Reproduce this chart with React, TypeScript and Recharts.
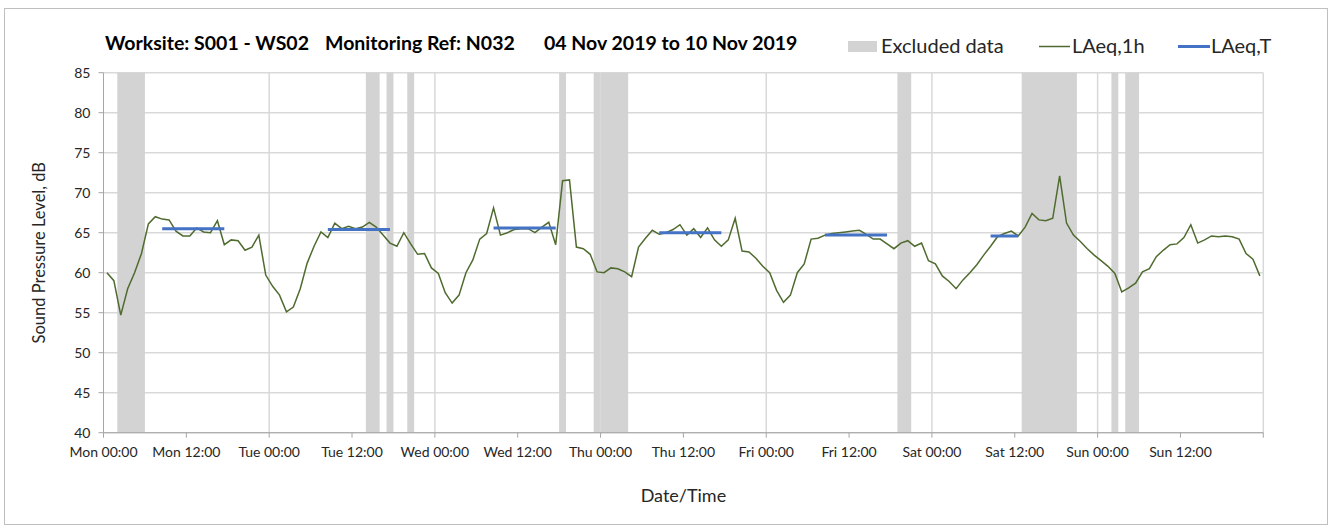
import {
  ComposedChart,
  Line,
  XAxis,
  YAxis,
  CartesianGrid,
  ReferenceArea,
  ReferenceLine,
} from 'recharts'

const days = ['Mon', 'Tue', 'Wed', 'Thu', 'Fri', 'Sat', 'Sun']
const xTicks = [0, 12, 24, 36, 48, 60, 72, 84, 96, 108, 120, 132, 144, 156, 168]
const yTicks = [40, 45, 50, 55, 60, 65, 70, 75, 80, 85]
const dayLines = [24, 48, 72, 96, 120, 144, 168]

// hourly LAeq,1h, Mon 00:00 .. Sun 23:00
const laeq1h = [
  60.0, 59.0, 54.7, 58.0, 60.0, 62.4, 66.1, 67.0, 66.7, 66.6, 65.2, 64.6,
  64.6, 65.6, 65.1, 65.0, 66.5, 63.5, 64.1, 64.0, 62.8, 63.2, 64.7, 59.7,
  58.3, 57.2, 55.1, 55.7, 58.0, 61.2, 63.3, 65.1, 64.4, 66.2, 65.5, 65.8,
  65.5, 65.7, 66.3, 65.7, 64.7, 63.7, 63.3, 65.0, 63.6, 62.3, 62.4, 60.6,
  59.9, 57.5, 56.2, 57.2, 60.0, 61.6, 64.2, 64.9, 68.1, 64.7, 65.0, 65.4,
  65.5, 65.5, 65.0, 65.7, 66.3, 63.5, 71.5, 71.6, 63.2, 63.0, 62.3, 60.1,
  60.0, 60.6, 60.5, 60.1, 59.5, 63.2, 64.3, 65.3, 64.8, 65.0, 65.4, 66.0,
  64.7, 65.5, 64.4, 65.6, 64.1, 63.3, 64.1, 66.8, 62.7, 62.6, 61.8, 60.8,
  60.0, 57.8, 56.3, 57.2, 60.0, 61.1, 64.2, 64.3, 64.7, 64.9, 65.0, 65.1,
  65.2, 65.3, 64.8, 64.2, 64.2, 63.6, 63.0, 63.7, 64.0, 63.3, 63.7, 61.5,
  61.1, 59.6, 58.9, 58.0, 59.1, 60.0, 61.0, 62.2, 63.3, 64.5, 64.9, 65.2,
  64.6, 65.7, 67.4, 66.6, 66.5, 66.8, 72.1, 66.2, 64.7, 63.9, 63.0, 62.2,
  61.5, 60.8, 59.9, 57.6, 58.1, 58.7, 60.1, 60.5, 62.0, 62.8, 63.5, 63.6,
  64.4, 66.0, 63.7, 64.1, 64.6, 64.5, 64.6, 64.5, 64.2, 62.4, 61.7, 59.6,
]

// LAeq,T periods (first hour, last hour, level)
const periodStart = [8, 32, 56, 80, 104, 128]
const periodEnd = [17, 41, 65, 89, 113, 132]
const periodLevel = [65.5, 65.4, 65.6, 65.0, 64.7, 64.6]

// excluded data, hours from Mon 00:00
const excludedStart = [2, 38, 41, 44, 66, 71, 115, 133, 146, 148]
const excludedEnd = [6, 40, 42, 45, 67, 76, 117, 141, 147, 150]

const data = laeq1h.map((v, i) => {
  const p = periodStart.findIndex((s, k) => i >= s && i <= periodEnd[k])
  return { t: i + 0.5, laeq1h: v, laeqT: p >= 0 ? periodLevel[p] : null }
})

const font = 'Lato, "Open Sans", sans-serif'
const axisGrey = '#a6a6a6'
const gridGrey = '#d9d9d9'

function fmtTick(t: number) {
  if (t >= 168) return ''
  return `${days[Math.floor(t / 24)]} ${t % 24 === 0 ? '00' : '12'}:00`
}

export default function App() {
  return (
    <div
      style={{
        position: 'absolute',
        left: 0,
        top: 0,
        width: 1333,
        height: 531,
        fontFamily: font,
        background: '#fff',
      }}
    >
      <div
        style={{
          position: 'absolute',
          left: 4,
          top: 8,
          width: 1322,
          height: 515,
          border: '1px solid #bfbfbf',
        }}
      />
      <ComposedChart
        width={1333}
        height={531}
        data={data}
        margin={{ top: 72.7, right: 69.7, bottom: 68.3, left: 43.5 }}
        style={{ position: 'absolute', left: 0, top: 0 }}
      >
        {excludedStart.map((s, i) => (
          <ReferenceArea
            key={i}
            x1={s}
            x2={excludedEnd[i]}
            fill="#d3d3d3"
            fillOpacity={1}
            stroke="none"
          />
        ))}
        <CartesianGrid vertical={false} stroke={gridGrey} strokeWidth={1.5} />
        {dayLines.map((d) => (
          <ReferenceLine key={d} x={d} stroke={gridGrey} strokeWidth={1.5} />
        ))}
        <XAxis
          type="number"
          dataKey="t"
          domain={[0, 168]}
          ticks={xTicks}
          interval={0}
          tickFormatter={fmtTick}
          height={30}
          stroke={axisGrey}
          tickSize={5}
          tickMargin={9}
          tick={{ fill: '#262626', fontSize: 14, fontFamily: font }}
          label={{
            value: 'Date/Time',
            position: 'insideBottom',
            offset: -39,
            fill: '#262626',
            fontSize: 18,
            fontFamily: font,
          }}
        />
        <YAxis
          type="number"
          domain={[40, 85]}
          ticks={yTicks}
          interval={0}
          width={60}
          stroke={axisGrey}
          tickSize={5}
          tickMargin={8}
          tick={{ fill: '#262626', fontSize: 14, fontFamily: font }}
          label={{
            value: 'Sound Pressure Level, dB',
            angle: -90,
            position: 'insideLeft',
            offset: -4,
            style: { textAnchor: 'middle' },
            fill: '#262626',
            fontSize: 16.5,
            fontFamily: font,
          }}
        />
        <Line
          type="linear"
          dataKey="laeq1h"
          stroke="#4f6b2f"
          strokeWidth={1.5}
          dot={false}
          activeDot={false}
          isAnimationActive={false}
        />
        <Line
          type="linear"
          dataKey="laeqT"
          stroke="#4472c4"
          strokeWidth={3}
          dot={false}
          activeDot={false}
          connectNulls={false}
          isAnimationActive={false}
        />
      </ComposedChart>
      <svg
        width={1333}
        height={70}
        style={{ position: 'absolute', left: 0, top: 0, pointerEvents: 'none' }}
      >
        <g fontFamily={font} fontWeight={700} fontSize={19.5} fill="#000">
          <text x={105} y={49.5}>Worksite: S001 - WS02</text>
          <text x={325} y={49.5}>Monitoring Ref: N032</text>
          <text x={544} y={49.5}>04 Nov 2019 to 10 Nov 2019</text>
        </g>
        <rect x={848} y={41} width={29} height={11} fill="#d3d3d3" />
        <line x1={1039} x2={1070} y1={46.5} y2={46.5} stroke="#4f6b2f" strokeWidth={1.5} />
        <line x1={1178} x2={1210} y1={46.5} y2={46.5} stroke="#4472c4" strokeWidth={3} />
        <g fontFamily={font} fontSize={20} fill="#262626">
          <text x={881} y={53}>Excluded data</text>
          <text x={1072} y={53}>LAeq,1h</text>
          <text x={1211} y={53}>LAeq,T</text>
        </g>
      </svg>
    </div>
  )
}
